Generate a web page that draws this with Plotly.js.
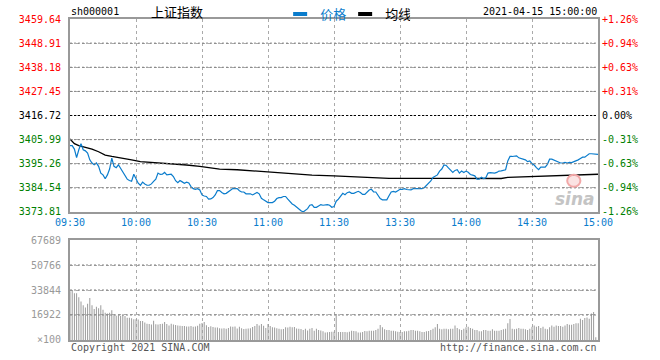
<!DOCTYPE html>
<html><head><meta charset="utf-8">
<script src="https://cdn.plot.ly/plotly-3.0.1.min.js"></script>
<style>html,body{margin:0;padding:0;background:#fff}#chart{width:660px;height:360px}</style>
</head><body><div id="chart"></div>
<script>
const timeTicks = [0,30,60,90,120,150,180,210,240];
const timeLabels = ['09:30','10:00','10:30','11:00','11:30','13:30','14:00','14:30','15:00'];
const prevClose = 3416.72;
const priceTickLabels = ['3373.81','3384.54','3395.26','3405.99','3416.72','3427.45','3438.18','3448.91','3459.64'];
const pctTickLabels = ['-1.26%','-0.94%','-0.63%','-0.31%','0.00%','+0.31%','+0.63%','+0.94%','+1.26%'];
const volTickVals = [0,16922,33844,50766,67689];
const volTickLabels = ['\u00d7100','16922','33844','50766','67689'];

// minute price (one per minute, 09:30 .. 15:00)
const priceValues = [
3403.3,3403.3,3401.8,3398.0,3401.5,3404.2,3401.5,3401.0,3400.0,3397.0,
3395.6,3394.8,3395.6,3394.1,3391.1,3390.3,3388.6,3390.3,3392.9,3397.8,
3394.1,3393.5,3394.8,3393.2,3391.1,3389.6,3388.4,3387.8,3387.5,3390.6,
3388.9,3386.6,3385.7,3387.1,3386.3,3385.7,3385.7,3386.3,3387.4,3388.4,
3391.1,3390.5,3390.6,3391.4,3390.3,3390.5,3390.6,3389.6,3387.7,3386.8,
3387.8,3387.2,3386.6,3387.1,3386.7,3385.1,3384.2,3383.9,3384.2,3383.6,
3381.4,3380.9,3380.7,3379.5,3379.6,3380.2,3381.4,3383.3,3383.3,3382.5,
3381.9,3382.1,3382.7,3383.3,3384.2,3384.2,3384.2,3383.3,3382.7,3382.7,
3381.9,3381.9,3381.9,3381.4,3381.8,3382.5,3381.9,3379.9,3379.2,3378.6,
3378.0,3378.0,3378.0,3378.6,3379.8,3380.2,3380.2,3380.7,3380.7,3379.5,
3378.4,3377.4,3376.8,3375.9,3375.3,3374.4,3373.8,3374.4,3375.3,3376.8,
3377.1,3375.9,3375.9,3376.5,3377.1,3376.8,3377.1,3377.1,3376.8,3375.9,
3376.2,
3378.6,3379.5,3380.7,3382.1,3381.5,3382.4,3382.7,3382.1,3382.1,3382.7,
3383.0,3382.5,3381.6,3381.6,3382.7,3383.6,3383.9,3382.7,3382.7,3381.3,
3379.8,3379.2,3379.2,3379.2,3381.0,3382.7,3383.0,3382.7,3383.3,3383.9,
3383.9,3384.2,3383.8,3383.6,3383.6,3384.2,3384.2,3384.2,3384.2,3384.2,
3384.6,3385.6,3386.6,3387.6,3389.2,3389.6,3390.3,3392.0,3392.9,3394.7,
3394.5,3393.4,3392.4,3391.4,3392.3,3392.6,3391.1,3392.0,3391.4,3392.0,
3391.5,3390.5,3390.2,3389.9,3388.4,3388.4,3389.3,3388.7,3389.0,3391.1,
3391.3,3391.1,3391.1,3391.4,3392.0,3392.1,3392.2,3392.6,3396.5,3398.5,
3398.5,3398.8,3398.8,3397.9,3397.6,3397.6,3397.0,3396.2,3396.5,3395.3,
3394.7,3393.5,3392.6,3393.8,3393.8,3393.8,3395.0,3397.3,3397.3,3396.9,
3396.4,3396.2,3395.6,3395.6,3395.9,3395.6,3395.9,3395.8,3396.1,3396.5,
3397.0,3397.6,3398.2,3398.2,3398.8,3399.7,3399.7,3399.7,3399.4,3399.4];

// average price line, read at these minutes
const avgMinutes = [0,2,4,7,10,13,16,19,23,28,32,37,42,50,53,59,63,68,76,85,90,97,104,110,120,132,145,170,196,199,211,229,240];
const avgValues = [3406.3,3404.2,3403.3,3402.7,3401.8,3400.6,3399.1,3398.5,3397.9,3397.0,3396.2,3395.9,3395.3,3395.0,3394.7,3394.1,3393.5,3392.9,3392.6,3392.0,3391.7,3391.1,3390.8,3390.2,3389.9,3389.3,3388.8,3388.8,3388.7,3389.2,3389.6,3390.2,3390.6];

// minute volume (x100)
const volumeValues = [
33000,33400,31600,31600,29000,26000,23500,22000,24500,28500,
23500,21000,22500,21500,23500,20500,18500,18000,18500,20200,
17000,16500,16700,16500,16900,16300,15000,15000,14800,14000,
14000,13800,12800,12800,11800,11000,10800,10500,13000,10700,
10500,10800,11000,12200,10800,9800,11000,10500,10200,9800,
9600,9500,9500,9200,9200,9400,9000,9200,9600,11000,
11500,12200,10000,8800,9300,8800,8400,8400,8000,7800,
8000,7600,8200,9200,9000,9200,7800,9000,8000,7500,
7600,7800,8000,8800,9400,10800,9800,10800,9600,8200,
10800,9400,8700,8400,8000,7600,7200,7400,8600,8400,
9000,8600,8800,7800,7600,7400,6800,7600,6400,7600,
8200,6200,7600,6800,6400,6000,5000,5200,5400,5600,
5600,
16900,5400,5400,5400,5400,5200,5600,6300,6100,5900,
5000,5000,5400,6100,5900,6300,6300,6300,6800,7700,
10200,8600,7200,6800,6800,6300,6300,5900,5600,5400,
5400,5900,5900,6300,6800,6800,6300,6300,5900,5400,
5400,5900,6100,6800,7700,8600,10800,7700,7200,7700,
7700,7200,7700,7700,9900,8100,7200,6800,7700,8600,
9000,8100,7700,6800,6800,5900,5900,6800,6800,6300,
6300,7200,6300,6300,6300,6800,7200,7700,11300,14200,
7700,7200,7700,8100,7700,7700,7200,6800,7700,9000,
9900,9000,9500,8100,9000,7700,7200,8600,9900,9000,
9900,9500,9500,9000,9900,10800,10400,10400,10800,11300,
11300,14400,13500,14900,15300,14400,18000,18900,1800,0];

const mono = 'DejaVu Sans Mono, monospace';
const cjk = 'Noto Sans CJK SC, sans-serif';
const RED = '#ff0000', GREEN = '#008000', BLUE = '#0a7ccc', GREY = '#999999';
const GRID = '#aaaaaa';
const HGRID = '#808080';

const priceTickVals = priceTickLabels.map(Number);
function colorFor(v){ return v > prevClose + 1e-6 ? RED : (v < prevClose - 1e-6 ? GREEN : '#000'); }
const priceTickText = priceTickLabels.map(t => `<span style="color:${colorFor(Number(t))}">${t}</span>`);
const pctTickText = pctTickLabels.map((t,i) => `<span style="color:${colorFor(priceTickVals[i])}">${t}</span>`);

const minutes = priceValues.map((_, i) => i);
const volMinutes = volumeValues.map((_, i) => i);

const traces = [
  {type:'bar', x:volMinutes, y:volumeValues, xaxis:'x2', yaxis:'y3', marker:{color:'#9a9a9a', line:{width:0}}, width:0.45, showlegend:false, hoverinfo:'skip'},
  {type:'scatter', mode:'lines', x:avgMinutes, y:avgValues, xaxis:'x', yaxis:'y', line:{color:'#000', width:1.3}, showlegend:false, hoverinfo:'skip'},
  {type:'scatter', mode:'lines', x:minutes, y:priceValues, xaxis:'x', yaxis:'y', line:{color:BLUE, width:1.2}, showlegend:false, hoverinfo:'skip'},
  {type:'scatter', mode:'none', x:[0], y:[prevClose], xaxis:'x', yaxis:'y2', showlegend:false, hoverinfo:'skip'},
  {type:'scatter', mode:'markers', x:[null], y:[null], name:`<span style="color:${BLUE}">价格</span>`, marker:{symbol:'line-ew', size:10, line:{width:4, color:BLUE}, color:BLUE}, hoverinfo:'skip'},
  {type:'scatter', mode:'markers', x:[null], y:[null], name:'<span style="color:#000">均线</span>', marker:{symbol:'line-ew', size:10, line:{width:4, color:'#000'}, color:'#000'}, hoverinfo:'skip'}
];

const gridCommon = {showgrid:true, gridcolor:GRID, griddash:'dot', gridwidth:1, zeroline:false, ticks:'', showline:true, linecolor:GREY, linewidth:2, mirror:true, fixedrange:true};

// horizontal grid lines placed at the axes' own tick values
const hGrid = [];
priceTickVals.slice(1, -1).forEach(v => {
  if (Math.abs(v - prevClose) > 1e-6) hGrid.push({type:'line', xref:'x', yref:'y', x0:0, x1:240, y0:v, y1:v, line:{color:HGRID, width:1, dash:'2px,2px'}, layer:'above'});
});
volTickVals.slice(1, -1).forEach(v => {
  hGrid.push({type:'line', xref:'x2', yref:'y3', x0:0, x1:240, y0:v, y1:v, line:{color:HGRID, width:1, dash:'2px,2px'}, layer:'above'});
});

const layout = {
  width:660, height:360,
  margin:{l:70, r:62, t:19, b:20, pad:0, autoexpand:false},
  paper_bgcolor:'#fff', plot_bgcolor:'#fff',
  showlegend:true,
  legend:{orientation:'h', x:0.398, xanchor:'left', y:1.062, yanchor:'top', font:{family:cjk, size:13}, bgcolor:'rgba(0,0,0,0)', itemwidth:30, entrywidth:20, entrywidthmode:'pixels', tracegroupgap:0},
  xaxis:Object.assign({}, gridCommon, {domain:[0,1], anchor:'y', range:[0,240], tickmode:'array', tickvals:timeTicks, ticktext:timeLabels, tickfont:{family:mono, size:10, color:BLUE}, ticklabelstandoff:0}),
  yaxis:Object.assign({}, gridCommon, {domain:[0.3988,1], anchor:'x', range:[3373.81,3459.64], tickmode:'array', tickvals:priceTickVals, ticktext:priceTickText, tickfont:{family:mono, size:10}, ticklabelstandoff:5}),
  yaxis2:{overlaying:'y', anchor:'x', side:'right', range:[3373.81,3459.64], tickmode:'array', tickvals:priceTickVals, ticktext:pctTickText, tickfont:{family:mono, size:10}, showgrid:false, zeroline:false, showline:false, ticks:'', ticklabelstandoff:3, fixedrange:true},
  xaxis2:Object.assign({}, gridCommon, {domain:[0,1], anchor:'y3', range:[0,240], tickmode:'array', tickvals:timeTicks, showticklabels:false}),
  yaxis3:Object.assign({}, gridCommon, {domain:[0,0.3115], anchor:'x2', range:[0,67689], tickmode:'array', tickvals:volTickVals, ticktext:volTickLabels, tickfont:{family:mono, size:10, color:GREY}, ticklabelstandoff:5}),
  shapes: hGrid.concat([
    {type:'line', xref:'x', yref:'y', x0:0, x1:240, y0:prevClose, y1:prevClose, line:{color:'#000', width:1, dash:'2px,2px'}, layer:'above'},
    {type:'circle', xref:'x', yref:'y', x0:226, x1:232, y0:3385.0, y1:3390.4, line:{color:'#f2a8a8', width:2}, fillcolor:'rgba(248,200,200,0.5)', layer:'above'}
  ]),
  annotations:[
    {xref:'paper', yref:'paper', x:0, y:1.022, xanchor:'left', yanchor:'middle', text:'sh000001', showarrow:false, font:{family:mono, size:10, color:'#000'}, borderpad:0},
    {xref:'paper', yref:'paper', x:0.151, y:1.024, xanchor:'left', yanchor:'middle', text:'上证指数', showarrow:false, font:{family:cjk, size:13, color:'#000'}, borderpad:0},
    {xref:'paper', yref:'paper', x:1, y:1.022, xanchor:'right', yanchor:'middle', text:'2021-04-15 15:00:00', showarrow:false, font:{family:mono, size:10, color:'#000'}, borderpad:0},
    {xref:'paper', yref:'paper', x:0, y:-0.022, xanchor:'left', yanchor:'middle', text:'Copyright 2021 SINA.COM', showarrow:false, font:{family:mono, size:10, color:'#555'}, borderpad:0},
    {xref:'paper', yref:'paper', x:1, y:-0.022, xanchor:'right', yanchor:'middle', text:'http://finance.sina.com.cn', showarrow:false, font:{family:mono, size:10, color:'#555'}, borderpad:0},
    {xref:'paper', yref:'paper', x:0.997, y:0.438, xanchor:'right', yanchor:'middle', text:'<b><i>sina</i></b>', showarrow:false, font:{family:'DejaVu Sans, sans-serif', size:17, color:'#c4c4c4'}, borderpad:0}
  ]
};

Plotly.newPlot('chart', traces, layout, {displayModeBar:false, staticPlot:true});
</script>
</body></html>
